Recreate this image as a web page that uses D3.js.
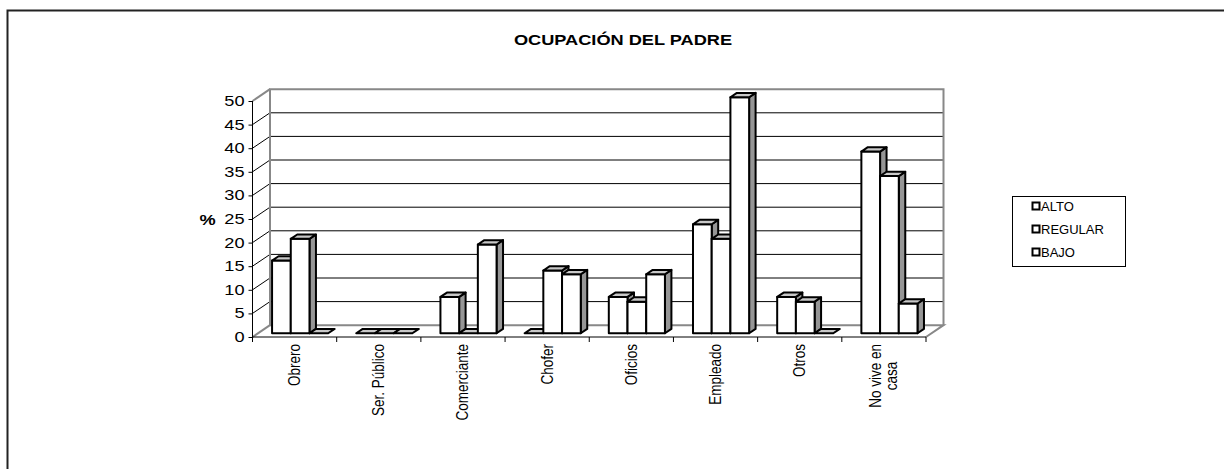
<!DOCTYPE html>
<html>
<head>
<meta charset="utf-8">
<script src="https://cdn.jsdelivr.net/npm/d3@7"></script>
<style>
  body { margin: 0; background: #fff; }
  svg { display: block; font-family: "Liberation Sans", Arial, sans-serif; }
</style>
</head>
<body>
<svg id="chart" width="1224" height="469"></svg>
<script>
const title = 'OCUPACIÓN DEL PADRE';
const categories = ['Obrero', 'Ser. Público', 'Comerciante', 'Chofer', 'Oficios', 'Empleado', 'Otros', 'No vive en casa'];
const categoryLines = [['Obrero'], ['Ser. Público'], ['Comerciante'], ['Chofer'], ['Oficios'], ['Empleado'], ['Otros'], ['No vive en', 'casa']];
const seriesNames = ['ALTO', 'REGULAR', 'BAJO'];
const alto = [15.4, 0, 7.7, 0, 7.7, 23.1, 7.7, 38.5];
const regular = [20, 0, 0, 13.3, 6.7, 20, 6.7, 33.3];
const bajo = [0, 0, 18.8, 12.5, 12.5, 50, 0, 6.3];
const yTicks = [0, 5, 10, 15, 20, 25, 30, 35, 40, 45, 50];

const seriesValues = [alto, regular, bajo];
// the source picture is a bit wider than tall, text looks stretched
const SX = 1.3;
const SXL = 1.2;

const svg = d3.select('#chart');

// outer frame (top + left only visible)
svg.append('path')
   .attr('d', 'M7.5,469 L7.5,10.5 L1224,10.5')
   .attr('fill', 'none')
   .attr('stroke', '#222')
   .attr('stroke-width', 2);

svg.append('text')
   .attr('transform', `translate(623,45) scale(${SX},1)`)
   .attr('text-anchor', 'middle')
   .attr('font-weight', 'bold')
   .attr('font-size', 14)
   .text(title);

// front plane scales, depth offset for the 3d look
const x = d3.scaleBand().domain(categories).range([252.5, 926]).padding(0);
const y = d3.scaleLinear().domain([0, 50]).range([337, 101]);
const DX = 17.5;
const DY = 11.8;
const bw = x.bandwidth();
const x1 = d3.scaleBand().domain(seriesNames).range([bw * 0.75 / 4.5, bw * (1 - 0.75 / 4.5)]);

const pt = (px, py, f) => [px + f * DX, py - f * DY];
const line = d3.line();

const x0 = x.range()[0];
const xEnd = x.range()[1];

// side wall grid diagonals
svg.selectAll('.side-grid')
   .data(yTicks)
   .enter()
   .append('path')
   .attr('d', (d) => line([pt(x0, y(d), 0), pt(x0, y(d), 1)]))
   .attr('stroke', (d) => (d === 0 || d === 50) ? '#888' : '#000')
   .attr('stroke-width', (d) => (d === 0 || d === 50) ? 2 : 1)
   .attr('fill', 'none');

// back wall grid
svg.selectAll('.back-grid')
   .data(yTicks.filter((d) => d > 0 && d < 50))
   .enter()
   .append('path')
   .attr('d', (d) => line([pt(x0, y(d), 1), pt(xEnd, y(d), 1)]))
   .attr('stroke', '#000')
   .attr('stroke-width', 1);

// back wall frame and floor
svg.append('path')
   .attr('d', line([pt(x0, y(0), 1), pt(x0, y(50), 1), pt(xEnd, y(50), 1), pt(xEnd, y(0), 1)]))
   .attr('fill', 'none')
   .attr('stroke', '#888')
   .attr('stroke-width', 2);
svg.append('path')
   .attr('d', line([pt(x0, y(0), 1), pt(xEnd, y(0), 1), pt(xEnd, y(0), 0)]))
   .attr('fill', 'none')
   .attr('stroke', '#888')
   .attr('stroke-width', 2);

// bars, left to right so later fronts hide earlier sides
const f0 = 0.316;
const f1 = 0.686;
const bars = [];
categories.forEach((c, i) => {
  seriesNames.forEach((s, j) => {
    bars.push({ c: c, s: s, v: seriesValues[j][i] });
  });
});

const barG = svg.selectAll('.bar')
   .data(bars)
   .enter()
   .append('g')
   .attr('class', 'bar');

barG.each(function (d) {
  const g = d3.select(this);
  const l = x(d.c) + x1(d.s);
  const r = l + x1.bandwidth();
  const top = y(d.v);
  const bot = y(0);
  const front = [pt(l, bot, f0), pt(l, top, f0), pt(r, top, f0), pt(r, bot, f0)];
  const side = [pt(r, bot, f0), pt(r, top, f0), pt(r, top, f1), pt(r, bot, f1)];
  const lid = [pt(l, top, f0), pt(l, top, f1), pt(r, top, f1), pt(r, top, f0)];
  if (d.v > 0) {
    g.append('path').attr('d', line(side) + 'Z').attr('fill', '#969696');
    g.append('path').attr('d', line(front) + 'Z').attr('fill', '#fff');
  }
  g.append('path').attr('d', line(lid) + 'Z').attr('fill', '#c8c8c8');
  g.selectAll('path')
   .attr('stroke', '#000')
   .attr('stroke-width', 2)
   .attr('stroke-linejoin', 'round');
});

// front axes
svg.append('path')
   .attr('d', line([[x0, y(50)], [x0, y(0)], [xEnd, y(0)]]))
   .attr('fill', 'none')
   .attr('stroke', '#000')
   .attr('stroke-width', 1);

const yAxis = d3.axisLeft(y).tickValues(yTicks).tickSize(4);
svg.append('g')
   .attr('transform', `translate(${x0},0)`)
   .call(yAxis)
   .call((g) => g.select('.domain').remove())
   .call((g) => g.selectAll('text')
     .attr('font-size', 14)
     .attr('font-family', null)
     .attr('fill', '#000')
     .attr('x', -8 / SX)
     .attr('transform', `scale(${SX},1)`))
   .call((g) => g.selectAll('line').attr('stroke', '#000'));

svg.append('text')
   .attr('transform', `translate(207.5,225) scale(${SX},1)`)
   .attr('text-anchor', 'middle')
   .attr('font-weight', 'bold')
   .attr('font-size', 14)
   .text('%');

// category tick marks at band edges
const edges = categories.map((c) => x(c)).concat([xEnd]);
svg.selectAll('.xtick')
   .data(edges)
   .enter()
   .append('line')
   .attr('x1', (d) => d)
   .attr('x2', (d) => d)
   .attr('y1', y(0))
   .attr('y2', y(0) + 5)
   .attr('stroke', '#000');

// rotated category labels
const labels = svg.selectAll('.xlabel')
   .data(categories)
   .enter()
   .append('text')
   .attr('class', 'xlabel')
   .attr('font-size', 13.5)
   .attr('text-anchor', 'middle')
   .attr('transform', (d) => `translate(${x(d) + bw / 2},${y(0) + 7}) scale(${SXL},1) rotate(-90)`);

labels.each(function (d, i) {
  const t = d3.select(this);
  const lines = categoryLines[i];
  lines.forEach((ln, k) => {
    t.append('tspan')
     .attr('x', 0)
     .attr('y', (k - (lines.length - 1) / 2) * 13.5)
     .attr('dominant-baseline', 'central')
     .text(ln);
  });
  const maxLen = d3.max(t.selectAll('tspan').nodes(), (n) => n.getComputedTextLength());
  t.selectAll('tspan').attr('x', -maxLen / 2);
});

// legend
const legend = svg.append('g');
legend.append('rect')
   .attr('x', 1012.5)
   .attr('y', 196.5)
   .attr('width', 113)
   .attr('height', 70)
   .attr('fill', '#fff')
   .attr('stroke', '#000');

const items = legend.selectAll('.item')
   .data(seriesNames)
   .enter()
   .append('g')
   .attr('transform', (d, i) => `translate(1032,${206 + i * 23})`);
items.append('rect')
   .attr('x', 0.5)
   .attr('y', -3.5)
   .attr('width', 7)
   .attr('height', 7)
   .attr('fill', '#fff')
   .attr('stroke', '#000')
   .attr('stroke-width', 2);
items.append('text')
   .attr('x', 9)
   .attr('y', 0)
   .attr('dominant-baseline', 'central')
   .attr('font-size', 13)
   .text((d) => d);
</script>
</body>
</html>
